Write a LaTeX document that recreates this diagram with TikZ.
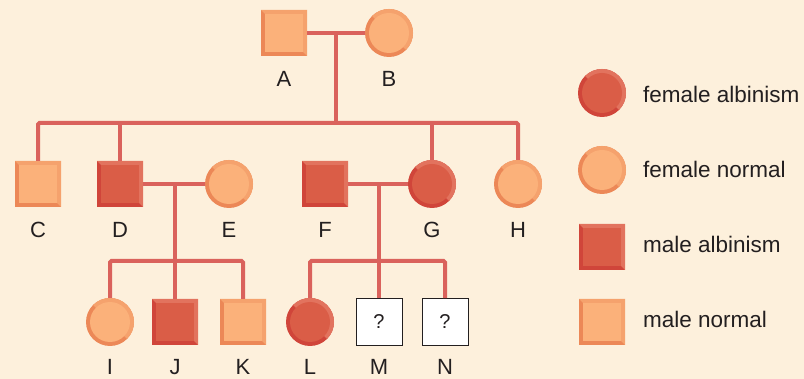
\documentclass[tikz,border=0pt]{standalone}
\usepackage{fontspec}
\setmainfont{Liberation Sans}
\definecolor{bg}{HTML}{FDF0DC}
\definecolor{linec}{HTML}{DA625C}
\definecolor{nmain}{HTML}{FBB17A}
\definecolor{nlight}{HTML}{F5A26D}
\definecolor{ndark}{HTML}{EC8857}
\definecolor{amain}{HTML}{DA5D47}
\definecolor{alight}{HTML}{E2735E}
\definecolor{adark}{HTML}{D0453A}
\definecolor{txt}{HTML}{231F20}
\begin{document}
\begin{tikzpicture}[x=1pt,y=-1pt,
  male/.style={rectangle, minimum size=46pt, inner sep=0pt, fill=#1dark,
    path picture={
      \fill[#1light] (path picture bounding box.north west) -- (path picture bounding box.north east) -- (path picture bounding box.south east) -- cycle;
      \fill[#1main] ([shift={(4pt,-4pt)}]path picture bounding box.north west) rectangle ([shift={(-4pt,4pt)}]path picture bounding box.south east);
    }},
  female/.style={circle, minimum size=48pt, inner sep=0pt, fill=#1dark,
    path picture={
      \fill[#1light] (path picture bounding box.north west) -- (path picture bounding box.north east) -- (path picture bounding box.south east) -- cycle;
      \fill[#1main] (path picture bounding box.center) circle (20pt);
    }},
  unknown/.style={rectangle, minimum width=46pt, minimum height=47pt, inner sep=0pt, fill=white, draw=txt, line width=0.9pt, font=\fontsize{20}{22}\selectfont, text=txt},
  conn/.style={draw=linec, line width=4pt, rounded corners=1.5pt},
  lab/.style={anchor=base, font=\fontsize{22}{24}\selectfont, text=txt, inner sep=0pt},
  legtxt/.style={anchor=base west, font=\fontsize{22.5}{24}\selectfont, text=txt, inner sep=0pt}
]
\fill[bg] (0,0) rectangle (804,379);
\useasboundingbox (0,0) rectangle (804,379);

% connector junctions
\coordinate (abm) at (336,33);
\coordinate (s1) at (336,123);
\coordinate (dem) at (175,184);
\coordinate (r3a) at (175,261);
\coordinate (fgm) at (379,184);
\coordinate (r3b) at (379,261);

% generation 1
\node[male=n] (A) at (284,33) {};
\node[female=n] (B) at (389,33) {};
% generation 2
\node[male=n] (C) at (38,184) {};
\node[male=a] (D) at (120,184) {};
\node[female=n] (E) at (229,184) {};
\node[male=a] (F) at (325,184) {};
\node[female=a] (G) at (432,184) {};
\node[female=n] (H) at (518,184) {};
% generation 3
\node[female=n] (I) at (110,322) {};
\node[male=a] (J) at (175,322) {};
\node[male=n] (K) at (243,322) {};
\node[female=a] (L) at (310,322) {};
\node[unknown] (M) at (379,322) {?};
\node[unknown] (N) at (445,322) {?};

% connectors
\draw[conn] (A.east) -- (B.west);
\draw[conn] (abm) -- (s1);
\draw[conn] (C.north) |- (s1) -| (H.north);
\draw[conn] (D.north) -- (D.north |- s1);
\draw[conn] (G.north) -- (G.north |- s1);
\draw[conn] (D.east) -- (E.west);
\draw[conn] (dem) -- (J.north);
\draw[conn] (I.north) |- (r3a) -| (K.north);
\draw[conn] (F.east) -- (G.west);
\draw[conn] (fgm) -- (M.north);
\draw[conn] (L.north) |- (r3b) -| (N.north);

% labels
\node[lab] (lA) at (284,87) {A};
\node[lab] (lB) at (389,87) {B};
\node[lab] (lC) at (38,238) {C};
\node[lab] (lD) at (120,238) {D};
\node[lab] (lE) at (229,238) {E};
\node[lab] (lF) at (325,238) {F};
\node[lab] (lG) at (432,238) {G};
\node[lab] (lH) at (518,238) {H};
\node[lab] (lI) at (110,375) {I};
\node[lab] (lJ) at (175,375) {J};
\node[lab] (lK) at (243,375) {K};
\node[lab] (lL) at (310,375) {L};
\node[lab] (lM) at (379,375) {M};
\node[lab] (lN) at (445,375) {N};

% legend
\node[female=a] (k1) at (602,93) {};
\node[female=n] (k2) at (602,170) {};
\node[male=a] (k3) at (602,247) {};
\node[male=n] (k4) at (602,322) {};
\node[legtxt] (t1) at (643,103) {female albinism};
\node[legtxt] (t2) at (643,178) {female normal};
\node[legtxt] (t3) at (643,253) {male albinism};
\node[legtxt] (t4) at (643,328) {male normal};
\end{tikzpicture}
\end{document}
